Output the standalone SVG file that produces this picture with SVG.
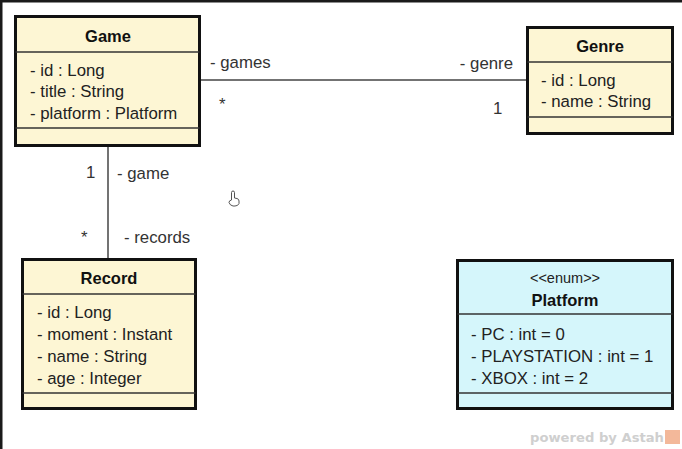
<svg xmlns="http://www.w3.org/2000/svg" width="682" height="449" viewBox="0 0 682 449">
  <style>
    .box { fill: #fdf6d4; stroke: #111; stroke-width: 3; }
    .enum { fill: #d5f6fb; stroke: #111; stroke-width: 3; }
    .sep { stroke: #333; stroke-width: 1.3; }
    .title { font-family: "Liberation Sans", Arial, sans-serif; font-size: 16.5px; font-weight: bold; fill: #111; text-anchor: middle; }
    .attr { font-family: "Liberation Sans", Arial, sans-serif; font-size: 16.8px; fill: #222; }
    .stereo { font-family: "Liberation Sans", Arial, sans-serif; font-size: 14.5px; fill: #222; text-anchor: middle; }
    .lbl { font-family: "Liberation Sans", Arial, sans-serif; font-size: 16.8px; fill: #333; }
    .conn { stroke: #444; stroke-width: 1.5; fill: none; }
  </style>

  <!-- canvas and window frame -->
  <rect x="0" y="0" width="682" height="449" fill="#ffffff"/>
  <rect x="0" y="0" width="682" height="2.5" fill="#1a1a1a"/>
  <rect x="0" y="0" width="2.5" height="449" fill="#1a1a1a"/>

  <!-- associations -->
  <g id="connectors">
    <line class="conn" x1="200" y1="80" x2="527" y2="80"/>
    <line class="conn" x1="108" y1="146" x2="108" y2="259"/>
    <text class="lbl" x="210" y="68">- games</text>
    <text class="lbl" x="513" y="69" text-anchor="end">- genre</text>
    <text class="lbl" x="219" y="110">*</text>
    <text class="lbl" x="493" y="114">1</text>
    <text class="lbl" x="86" y="178">1</text>
    <text class="lbl" x="117" y="179">- game</text>
    <text class="lbl" x="81" y="243">*</text>
    <text class="lbl" x="124" y="243">- records</text>
  </g>

  <!-- Game class -->
  <g id="game">
    <rect class="box" x="15.5" y="16.5" width="184" height="129"/>
    <line class="sep" x1="15.5" y1="52" x2="199.5" y2="52"/>
    <line class="sep" x1="15.5" y1="128" x2="199.5" y2="128"/>
    <text class="title" x="108" y="42">Game</text>
    <text class="attr" x="30" y="76">- id : Long</text>
    <text class="attr" x="30" y="97">- title : String</text>
    <text class="attr" x="30" y="119">- platform : Platform</text>
  </g>

  <!-- Genre class -->
  <g id="genre">
    <rect class="box" x="527.5" y="27.5" width="145" height="106"/>
    <line class="sep" x1="527.5" y1="62" x2="672.5" y2="62"/>
    <line class="sep" x1="527.5" y1="117" x2="672.5" y2="117"/>
    <text class="title" x="600" y="52">Genre</text>
    <text class="attr" x="541" y="86">- id : Long</text>
    <text class="attr" x="541" y="107">- name : String</text>
  </g>

  <!-- Record class -->
  <g id="record">
    <rect class="box" x="22.5" y="259.5" width="173" height="149"/>
    <line class="sep" x1="22.5" y1="294" x2="195.5" y2="294"/>
    <line class="sep" x1="22.5" y1="393" x2="195.5" y2="393"/>
    <text class="title" x="109" y="284">Record</text>
    <text class="attr" x="37" y="318">- id : Long</text>
    <text class="attr" x="37" y="340">- moment : Instant</text>
    <text class="attr" x="37" y="362">- name : String</text>
    <text class="attr" x="37" y="384">- age : Integer</text>
  </g>

  <!-- Platform enumeration -->
  <g id="platform">
    <rect class="enum" x="457.5" y="260.5" width="215" height="148"/>
    <line class="sep" x1="457.5" y1="314" x2="672.5" y2="314"/>
    <line class="sep" x1="457.5" y1="393" x2="672.5" y2="393"/>
    <text class="stereo" x="565" y="283">&lt;&lt;enum&gt;&gt;</text>
    <text class="title" x="565" y="306">Platform</text>
    <text class="attr" x="471" y="340">- PC : int = 0</text>
    <text class="attr" x="471" y="362">- PLAYSTATION : int = 1</text>
    <text class="attr" x="471" y="384">- XBOX : int = 2</text>
  </g>

  <!-- pointer cursor -->
  <path d="M231.5 200 L231.5 192.5 Q231.5 191 233 191 Q234.5 191 234.5 192.5 L234.5 198 L237 198.5 Q239 199 239 201 L239 203.5 Q238 206 235 206 L233 206 Q230 205.5 229 202.5 Q229 200.5 231.5 200 Z" fill="#ffffff" stroke="#555" stroke-width="1"/>

  <!-- footer -->
  <text x="530" y="442" font-family="'DejaVu Sans', Verdana, sans-serif" font-size="13" font-weight="bold" fill="#cfcfcf" textLength="134" lengthAdjust="spacingAndGlyphs">powered by Astah</text>
  <rect x="665" y="430" width="15" height="14" fill="#f3b89a"/>
</svg>
